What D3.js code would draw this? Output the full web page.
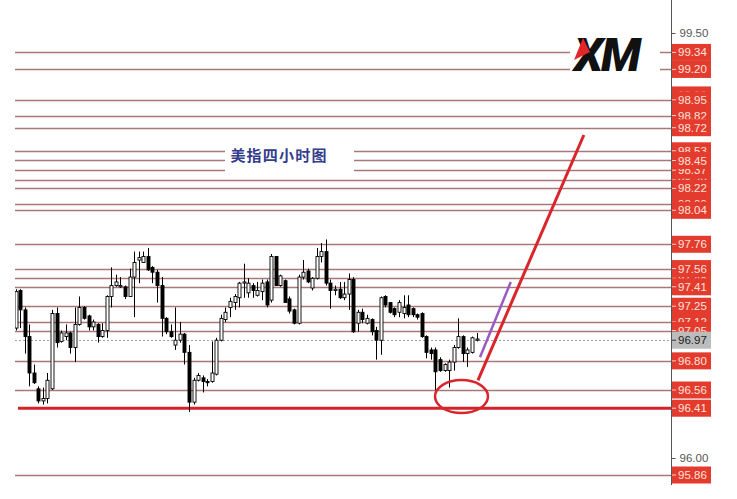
<!DOCTYPE html>
<html>
<head>
<meta charset="utf-8">
<script src="https://cdn.jsdelivr.net/npm/d3@7"></script>
<style>
  html, body { margin: 0; padding: 0; background: #fff; }
  svg { display: block; }
</style>
</head>
<body>
<svg id="chart" width="737" height="499"></svg>
<script>
// ---------------- DATA ----------------
const opens = [97.07,97.38,97.22,97.00,96.70,96.57,96.47,96.49,96.57,97.19,
96.96,97.00,97.03,96.91,97.10,97.24,97.17,97.08,97.10,97.00,
97.05,97.33,97.42,97.41,97.41,97.33,97.49,97.63,97.61,97.66,
97.57,97.53,97.42,97.15,97.04,96.93,96.97,97.02,96.87,96.46,
96.64,96.66,96.63,96.63,96.69,96.97,97.14,97.24,97.28,97.32,
97.44,97.36,97.42,97.34,97.37,97.45,97.30,97.66,97.42,97.46,
97.31,97.22,97.11,97.49,97.54,97.40,97.48,97.66,97.70,97.44,
97.38,97.39,97.32,97.35,97.47,97.11,97.20,97.11,97.14,97.05,
96.97,97.33,97.28,97.23,97.20,97.19,97.26,97.23,97.18,97.19,
97.00,96.89,96.89,96.81,96.72,96.72,96.79,96.91,97.00,96.86,
96.87,96.97];
const highs = [97.39,97.39,97.24,97.10,96.77,96.59,96.58,96.70,97.22,97.24,
97.05,97.10,97.04,97.24,97.33,97.25,97.18,97.14,97.11,97.11,
97.34,97.57,97.51,97.49,97.42,97.56,97.70,97.70,97.70,97.73,
97.58,97.55,97.49,97.16,97.10,97.24,97.12,97.03,96.93,96.66,
96.70,96.68,96.65,96.96,96.99,97.18,97.24,97.32,97.35,97.45,
97.60,97.48,97.44,97.45,97.47,97.47,97.68,97.66,97.51,97.47,
97.33,97.23,97.51,97.63,97.56,97.49,97.73,97.77,97.80,97.47,
97.42,97.45,97.45,97.52,97.49,97.22,97.23,97.18,97.15,97.08,
97.33,97.34,97.28,97.24,97.30,97.34,97.34,97.24,97.19,97.20,
97.01,96.91,96.91,96.83,96.78,96.81,96.93,97.15,97.01,96.91,
97.00,97.03];
const lows = [97.05,97.07,96.86,96.59,96.61,96.45,96.44,96.45,96.56,96.91,
96.95,96.97,96.86,96.79,97.09,97.14,97.05,97.05,96.95,96.99,
96.99,97.24,97.41,97.40,97.31,97.33,97.16,97.44,97.61,97.54,
97.44,97.28,97.00,97.02,96.99,96.89,96.95,96.77,96.38,96.44,
96.63,96.54,96.59,96.62,96.68,96.96,97.12,97.16,97.22,97.24,
97.32,97.32,97.32,97.33,97.30,97.24,97.28,97.42,97.41,97.28,
97.19,97.10,97.10,97.47,97.44,97.38,97.47,97.61,97.42,97.23,
97.34,97.31,97.30,97.22,97.03,97.04,97.11,97.10,97.01,96.81,
96.85,97.24,97.19,97.16,97.16,97.15,97.16,97.16,97.14,96.99,
96.82,96.81,96.56,96.71,96.71,96.58,96.72,96.90,96.79,96.75,
96.86,96.96];
const closes = [97.37,97.22,97.00,96.70,96.62,96.47,96.49,96.64,97.19,96.95,
97.03,97.03,96.91,97.10,97.24,97.15,97.08,97.12,97.00,97.05,
97.33,97.42,97.45,97.42,97.33,97.49,97.61,97.65,97.66,97.55,
97.53,97.42,97.15,97.04,97.00,96.97,97.02,96.87,96.46,96.64,
96.68,96.63,96.62,96.70,96.97,97.15,97.20,97.29,97.33,97.44,
97.45,97.44,97.38,97.38,97.44,97.26,97.66,97.42,97.50,97.28,
97.21,97.11,97.49,97.53,97.45,97.48,97.66,97.70,97.44,97.38,
97.39,97.32,97.35,97.47,97.04,97.20,97.14,97.15,97.04,96.97,
97.32,97.26,97.20,97.18,97.28,97.24,97.18,97.18,97.16,97.00,
96.87,96.86,96.71,96.72,96.77,96.79,96.91,97.00,96.86,96.89,
96.99,96.98];

// horizontal resistance/support levels (thin lines)
const levelValues = [99.34, 99.20, 98.95, 98.82, 98.72, 98.53, 98.45, 98.37, 98.29, 98.22,
  98.09, 98.04, 97.76, 97.56, 97.48, 97.41, 97.25, 97.12, 97.05, 96.80, 96.56, 95.86];
const supportLevel = 96.41;
const currentPrice = 96.97;

// right-axis labels, in drawing order (later ones cover earlier ones)
const hiddenLabels = [98.99, 98.29, 98.09, 97.48, 97.12];
const upperLabels = [99.34, 99.20, 98.95, 98.82, 98.72, 98.53, 98.37, 98.45, 98.22, 98.04,
  97.76, 97.56, 97.41, 97.25, 97.05];
const lowerLabels = [96.80, 96.56, 96.41, 95.86];
const plainTicks = [99.50, 96.00];

// annotations (candle index, price)
const purpleTrend = [{ i: 101.75, p: 96.83 }, { i: 108.5, p: 97.45 }];
const redArrow = [{ i: 101.3, p: 96.64 }, { i: 124.5, p: 98.66 }];
const circleMark = { i: 97.7, p: 96.506, ri: 5.8, rp: 0.136 };
const titleText = "美指四小时图";

// ---------------- CHART ----------------
const svg = d3.select("#chart");
const W = 737, H = 499;
const axisX = 671;
const plotLeft = 15;

const y = d3.scaleLinear().domain([96.00, 99.50]).range([458, 33]);
const x = d3.scaleLinear().domain([0, 101]).range([15.5, 15.5 + 101 * 4.565]);

const candles = opens.map((o, i) => ({ i, o, h: highs[i], l: lows[i], c: closes[i] }));

svg.append("defs").append("clipPath").attr("id", "plotclip")
  .append("rect").attr("x", plotLeft).attr("y", 0).attr("width", axisX - plotLeft).attr("height", H);

const plot = svg.append("g").attr("clip-path", "url(#plotclip)");

// thin level lines
plot.selectAll("line.level").data(levelValues).join("line")
  .attr("class", "level")
  .attr("x1", plotLeft).attr("x2", axisX)
  .attr("y1", d => Math.round(y(d)) + 0.5).attr("y2", d => Math.round(y(d)) + 0.5)
  .attr("stroke", "#a87878").attr("stroke-width", 1.4);

// current price dotted line
plot.append("line")
  .attr("x1", plotLeft).attr("x2", axisX)
  .attr("y1", Math.round(y(currentPrice)) + 0.5).attr("y2", Math.round(y(currentPrice)) + 0.5)
  .attr("stroke", "#a0a0a0").attr("stroke-width", 1).attr("stroke-dasharray", "2,2");

// title box
const tg = svg.append("g");
tg.append("rect").attr("x", 225).attr("y", 141).attr("width", 129).attr("height", 36).attr("fill", "#fff");
tg.append("text").attr("x", 279).attr("y", 161).attr("text-anchor", "middle")
  .attr("font-family", "'Noto Sans CJK SC', sans-serif").attr("font-weight", 700)
  .attr("font-size", 15).attr("letter-spacing", 1.2).attr("fill", "#343c8c").text(titleText);

// logo
const lg = svg.append("g");
lg.append("rect").attr("x", 570).attr("y", 33).attr("width", 90).attr("height", 46).attr("fill", "#fff");
lg.append("text").attr("x", 574).attr("y", 71)
  .attr("font-family", "Roboto, 'Liberation Sans', Arial, sans-serif").attr("font-weight", 900)
  .attr("font-style", "italic").attr("font-size", 47).attr("letter-spacing", -2)
  .attr("fill", "#111").text("XM");
lg.append("polygon").attr("points", "583,38 574,60 590,52").attr("fill", "#e2262c");

// support thick line
plot.append("line")
  .attr("x1", 18).attr("x2", axisX)
  .attr("y1", y(supportLevel)).attr("y2", y(supportLevel))
  .attr("stroke", "#d2232a").attr("stroke-width", 3);

// candles
const cg = plot.append("g");
cg.selectAll("line.wick").data(candles).join("line")
  .attr("class", "wick")
  .attr("x1", d => Math.round(x(d.i)) + 0.5).attr("x2", d => Math.round(x(d.i)) + 0.5)
  .attr("y1", d => y(d.h)).attr("y2", d => y(d.l))
  .attr("stroke", "#000").attr("stroke-width", 1);
cg.selectAll("rect.body").data(candles).join("rect")
  .attr("class", "body")
  .attr("x", d => Math.round(x(d.i)) - 1)
  .attr("width", 3)
  .attr("y", d => y(Math.max(d.o, d.c)))
  .attr("height", d => Math.max(1, Math.abs(y(d.o) - y(d.c))))
  .attr("fill", d => d.c >= d.o ? "#fff" : "#000")
  .attr("stroke", "#000").attr("stroke-width", 0.9);

// annotations
const line = d3.line().x(d => x(d.i)).y(d => y(d.p));
svg.append("path").attr("d", line(purpleTrend)).attr("fill", "none")
  .attr("stroke", "#9a5ac4").attr("stroke-width", 2.5);
svg.append("path").attr("d", line(redArrow)).attr("fill", "none")
  .attr("stroke", "#d8262c").attr("stroke-width", 3);
svg.append("ellipse")
  .attr("cx", x(circleMark.i)).attr("cy", y(circleMark.p))
  .attr("rx", x(circleMark.i + circleMark.ri) - x(circleMark.i))
  .attr("ry", y(circleMark.p - circleMark.rp) - y(circleMark.p))
  .attr("fill", "none").attr("stroke", "#d8262c").attr("stroke-width", 2.5);

// right axis
const axisG = svg.append("g").attr("transform", `translate(${axisX},0)`);
axisG.append("line").attr("x1", 0.5).attr("x2", 0.5).attr("y1", 0).attr("y2", 485)
  .attr("stroke", "#555").attr("stroke-width", 1);

const plainAxis = d3.axisRight(y).tickValues(plainTicks).tickSize(4).tickPadding(4)
  .tickFormat(d3.format(".2f"));
const pa = svg.append("g").attr("transform", `translate(${axisX + 0.5},0)`).call(plainAxis);
pa.select(".domain").remove();
pa.selectAll("line").attr("stroke", "#555");
pa.selectAll("text").attr("font-family", "'Liberation Sans', Arial, sans-serif")
  .attr("font-size", 11.5).attr("fill", "#555");

function drawLabels(vals, bg, fg, tickCol) {
  const g = svg.append("g");
  vals.forEach(v => {
    const cy = y(v);
    const lab = g.append("g");
    lab.append("rect").attr("x", axisX + 1).attr("y", cy - 8.5).attr("width", 39).attr("height", 17).attr("fill", bg);
    lab.append("line").attr("x1", axisX + 1).attr("x2", axisX + 5).attr("y1", cy).attr("y2", cy)
      .attr("stroke", tickCol).attr("stroke-width", 1);
    lab.append("text").attr("x", axisX + 7).attr("y", cy + 4)
      .attr("font-family", "'Liberation Sans', Arial, sans-serif").attr("font-size", 11.5)
      .attr("fill", fg).text(d3.format(".2f")(v));
  });
}
const red = "#e33c2e";
drawLabels(hiddenLabels, red, "#ffe2da", "#ffd0c8");
drawLabels(upperLabels, red, "#ffe2da", "#ffd0c8");
drawLabels([currentPrice], "#bcbcbc", "#222", "#333");
drawLabels(lowerLabels, red, "#ffe2da", "#ffd0c8");
</script>
</body>
</html>
